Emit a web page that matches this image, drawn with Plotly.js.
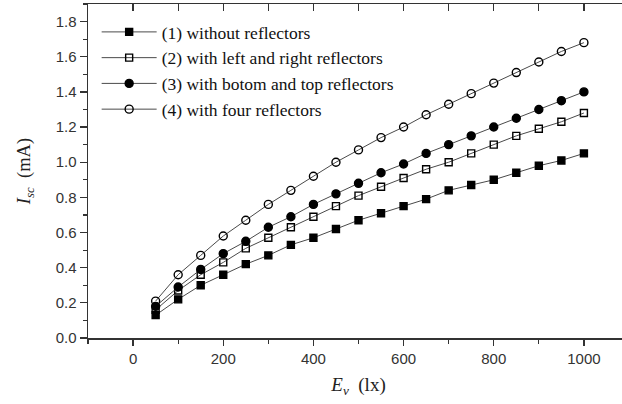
<!DOCTYPE html>
<html>
<head>
<meta charset="utf-8">
<script src="https://cdn.plot.ly/plotly-3.0.1.min.js"></script>
<style>
html,body{margin:0;padding:0;background:#fff;overflow:hidden;width:622px;height:404px;}
#chart{width:640px;height:404px;}
</style>
</head>
<body>
<div id="chart"></div>
<script>
var illuminance = [50,100,150,200,250,300,350,400,450,500,550,600,650,700,750,800,850,900,950,1000];
var isc1 = [0.13,0.22,0.30,0.36,0.42,0.47,0.53,0.57,0.62,0.67,0.71,0.75,0.79,0.84,0.87,0.90,0.94,0.98,1.01,1.05];
var isc2 = [0.16,0.27,0.36,0.43,0.51,0.57,0.63,0.69,0.75,0.81,0.86,0.91,0.96,1.00,1.05,1.10,1.15,1.19,1.23,1.28];
var isc3 = [0.18,0.29,0.39,0.48,0.55,0.63,0.69,0.76,0.82,0.88,0.94,0.99,1.05,1.10,1.15,1.20,1.25,1.30,1.35,1.40];
var isc4 = [0.21,0.36,0.47,0.58,0.67,0.76,0.84,0.92,1.00,1.07,1.14,1.20,1.27,1.33,1.39,1.45,1.51,1.57,1.63,1.68];
var seriesNames = ["(1) without reflectors","(2) with left and right reflectors","(3) with botom and top reflectors","(4) with four reflectors"];

function tr(y, name, symbol){
  var isCircle = symbol.indexOf('circle') === 0;
  return {
    x: illuminance, y: y, name: name, type: 'scatter', mode: 'lines+markers',
    line: {color: '#4a4a4a', width: 1},
    marker: {symbol: symbol, size: isCircle ? 8 : 7, color: '#000', line: {color: '#000', width: 1.4}}
  };
}
var data = [
  tr(isc1, seriesNames[0], 'square'),
  tr(isc2, seriesNames[1], 'square-open'),
  tr(isc3, seriesNames[2], 'circle'),
  tr(isc4, seriesNames[3], 'circle-open'),
  {x: illuminance, y: isc4, xaxis: 'x2', yaxis: 'y2', mode: 'markers', showlegend: false, hoverinfo: 'skip', marker: {opacity: 0}}
];

var axColor = '#333';
var tickFont = {family: 'Liberation Sans, Arial, sans-serif', size: 15, color: '#333'};
var serif = 'Liberation Serif, Times New Roman, serif';
var layout = {
  width: 640, height: 404,
  margin: {l: 88, r: 11, t: 4, b: 66},
  paper_bgcolor: '#fff', plot_bgcolor: '#fff',
  showlegend: true,
  legend: {
    x: 0.016, y: 0.97, xanchor: 'left', yanchor: 'top',
    bgcolor: 'rgba(0,0,0,0)', borderwidth: 0,
    font: {family: serif, size: 17.5, color: '#111'},
    itemwidth: 55, tracegroupgap: 0
  },
  xaxis: {
    range: [-100, 1100], tick0: 0, dtick: 200,
    showgrid: false, zeroline: false,
    showline: true, linecolor: axColor, linewidth: 1.5,
    ticks: 'outside', ticklen: 6, tickwidth: 1.3, tickcolor: axColor,
    minor: {dtick: 100, tick0: 0, ticks: 'outside', ticklen: 4, tickwidth: 1.2, tickcolor: axColor, showgrid: false},
    tickfont: tickFont,
    title: {text: '<i>E</i><sub><i>v</i></sub>  (lx)', standoff: 12, font: {family: serif, size: 19, color: '#222'}}
  },
  yaxis: {
    range: [0, 1.9], tick0: 0, dtick: 0.2, tickformat: '.1f',
    showgrid: false, zeroline: false,
    showline: true, linecolor: axColor, linewidth: 1.5,
    ticks: 'outside', ticklen: 7, tickwidth: 1.3, tickcolor: axColor,
    minor: {dtick: 0.1, tick0: 0, ticks: 'outside', ticklen: 4, tickwidth: 1.2, tickcolor: axColor, showgrid: false},
    tickfont: tickFont,
    title: {text: '<i>I</i><sub><i>sc</i></sub>&nbsp;&nbsp;(mA)', standoff: 20, font: {family: serif, size: 18.5, color: '#222'}}
  },
  xaxis2: {
    overlaying: 'x', side: 'top', anchor: 'y2', matches: 'x',
    range: [-100, 1100], tick0: 0, dtick: 200,
    showgrid: false, zeroline: false, showticklabels: false,
    showline: true, linecolor: axColor, linewidth: 1.5,
    ticks: 'inside', ticklen: 7, tickwidth: 1.3, tickcolor: axColor,
    minor: {dtick: 100, tick0: 0, ticks: 'inside', ticklen: 7, tickwidth: 1.2, tickcolor: axColor, showgrid: false}
  },
  yaxis2: {
    overlaying: 'y', side: 'right', anchor: 'x2',
    range: [0, 1.9], tick0: 0, dtick: 0.2,
    showgrid: false, zeroline: false, showticklabels: false,
    showline: true, linecolor: axColor, linewidth: 1.5,
    ticks: 'inside', ticklen: 7, tickwidth: 1.3, tickcolor: axColor,
    minor: {dtick: 0.1, tick0: 0, ticks: 'inside', ticklen: 4, tickwidth: 1.2, tickcolor: axColor, showgrid: false}
  }
};
Plotly.newPlot('chart', data, layout, {displayModeBar: false, staticPlot: true});
</script>
</body>
</html>
